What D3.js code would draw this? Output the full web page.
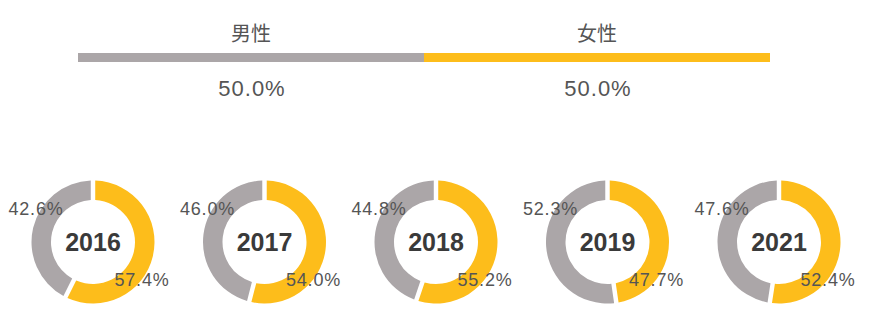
<!DOCTYPE html>
<html><head><meta charset="utf-8">
<script src="https://cdn.jsdelivr.net/npm/d3@7"></script>
<style>html,body{margin:0;padding:0;background:#fff;}svg{display:block;}</style>
</head><body>
<svg id="c" width="886" height="334"></svg>
<script>
const genders = ["男性", "女性"];
const overallShare = [50.0, 50.0];
const years = ["2016", "2017", "2018", "2019", "2021"];
const maleShare = [42.6, 46.0, 44.8, 52.3, 47.6];
const femaleShare = [57.4, 54.0, 55.2, 47.7, 52.4];

const GRAY = "#aba6a8", YELLOW = "#fdbd1b";
const colors = [GRAY, YELLOW];
const svg = d3.select("#c");
const fontLatin = "'Liberation Sans', Arial, sans-serif";
const fontCJK = "'Noto Sans CJK JP', sans-serif";

// Top bar
const x = d3.scaleLinear().domain([0, d3.sum(overallShare)]).range([78, 770]);
let cum = 0;
const segs = overallShare.map((v, i) => { const s = {i, v, x0: cum, x1: cum + v}; cum += v; return s; });
svg.selectAll("rect.seg").data(segs).join("rect")
  .attr("x", d => x(d.x0)).attr("width", d => x(d.x1) - x(d.x0))
  .attr("y", 53).attr("height", 9).attr("fill", d => colors[d.i]);
svg.selectAll("text.g").data(segs).join("text")
  .attr("x", d => (x(d.x0) + x(d.x1)) / 2).attr("y", 41)
  .attr("text-anchor", "middle").attr("font-family", fontCJK)
  .attr("font-size", 20).attr("fill", "#555")
  .text(d => genders[d.i]);
svg.selectAll("text.p").data(segs).join("text")
  .attr("x", d => (x(d.x0) + x(d.x1)) / 2 + 1).attr("y", 96)
  .attr("text-anchor", "middle").attr("font-family", fontLatin)
  .attr("font-size", 22).attr("letter-spacing", 1).attr("fill", "#555")
  .text(d => d.v.toFixed(1) + "%");

// Donuts
const cx = d3.scalePoint().domain(years).range([93, 779]);
const cy = 242;
const pie = d3.pie().sort(null).value(d => d.v);
const arc = d3.arc().innerRadius(42).outerRadius(61.5).padAngle(0.06);

years.forEach((yr, i) => {
  const g = svg.append("g").attr("transform", `translate(${cx(yr)},${cy})`);
  const data = [{k: 1, v: femaleShare[i]}, {k: 0, v: maleShare[i]}];
  g.selectAll("path").data(pie(data)).join("path")
    .attr("d", arc).attr("fill", d => colors[d.data.k]);
  g.append("text").attr("text-anchor", "middle").attr("y", 9)
    .attr("font-family", fontLatin).attr("font-weight", "bold")
    .attr("font-size", 25).attr("fill", "#3a3a3a").text(yr);
  g.append("text").attr("text-anchor", "middle").attr("x", -57).attr("y", -27)
    .attr("font-family", fontLatin).attr("font-size", 18).attr("letter-spacing", 0.8).attr("fill", "#555")
    .text(maleShare[i].toFixed(1) + "%");
  g.append("text").attr("text-anchor", "middle").attr("x", 49).attr("y", 44)
    .attr("font-family", fontLatin).attr("font-size", 18).attr("letter-spacing", 0.8).attr("fill", "#555")
    .text(femaleShare[i].toFixed(1) + "%");
});
</script>
</body></html>
